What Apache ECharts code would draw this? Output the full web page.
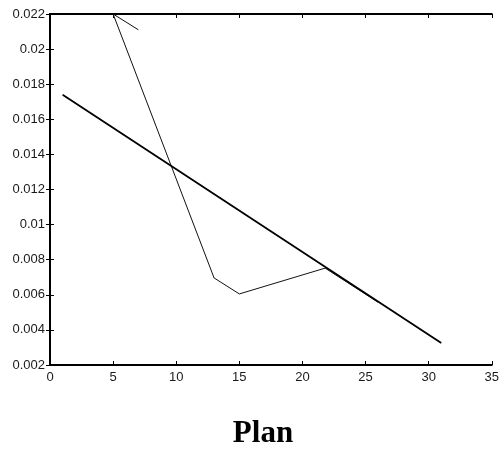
<!DOCTYPE html>
<html>
<head>
<meta charset="utf-8">
<script src="https://cdn.jsdelivr.net/npm/echarts@6/dist/echarts.min.js"></script>
<style>html,body{margin:0;padding:0;background:#fff;}#c{width:502px;height:449px;}</style>
</head>
<body>
<div id="c"></div>
<script>
// Straight (thick) line
const lineAX = [1, 31];
const lineAY = [0.0174, 0.00325];
// Thin polyline
const lineBX = [7, 5, 13, 15, 21.8, 26];
const lineBY = [0.0211, 0.022, 0.00696, 0.00605, 0.00752, 0.00557];
const xTicks = [0, 5, 10, 15, 20, 25, 30, 35];
const yTicks = [0.002, 0.004, 0.006, 0.008, 0.01, 0.012, 0.014, 0.016, 0.018, 0.02, 0.022];
const titleText = 'Plan';

const pairs = (xs, ys) => xs.map((x, i) => [x, ys[i]]);
const fmtY = v => String(parseFloat(Number(v).toFixed(3)));
const labelFont = {color: '#1a1a1a', fontFamily: 'Liberation Sans, Arial, sans-serif', fontSize: 13};
const axLine = {show: true, lineStyle: {color: '#000', width: 2}};
const tick = {show: true, inside: true, length: 4, lineStyle: {color: '#000', width: 1}};

const chart = echarts.init(document.getElementById('c'), null, {renderer: 'canvas'});
chart.setOption({
  animation: false,
  backgroundColor: '#fff',
  grid: {left: 50, right: 6, top: 14, bottom: 84, containLabel: false},
  xAxis: [
    {type: 'value', position: 'bottom', min: xTicks[0], max: xTicks[xTicks.length-1], interval: 5,
     axisLine: axLine, axisTick: tick, splitLine: {show: false},
     axisLabel: Object.assign({margin: 6}, labelFont)},
    {type: 'value', position: 'top', min: xTicks[0], max: xTicks[xTicks.length-1], interval: 5,
     axisLine: axLine, axisTick: tick, splitLine: {show: false}, axisLabel: {show: false}}
  ],
  yAxis: [
    {type: 'value', position: 'left', min: yTicks[0], max: yTicks[yTicks.length-1], interval: 0.002,
     axisLine: axLine, axisTick: tick, splitLine: {show: false},
     axisLabel: Object.assign({margin: 5, formatter: fmtY}, labelFont)},
    {type: 'value', position: 'right', min: yTicks[0], max: yTicks[yTicks.length-1], interval: 0.002,
     axisLine: axLine, axisTick: tick, splitLine: {show: false}, axisLabel: {show: false}}
  ],
  series: [
    {type: 'line', data: pairs(lineAX, lineAY), showSymbol: false, symbol: 'none',
     lineStyle: {color: '#000', width: 1.8}, z: 3},
    {type: 'line', data: pairs(lineBX, lineBY), showSymbol: false, symbol: 'none',
     lineStyle: {color: '#111', width: 1}, z: 2}
  ],
  graphic: [{
    type: 'text', x: 263, y: 434,
    style: {text: titleText, fill: '#000', font: 'bold 31px "Liberation Serif", "Times New Roman", serif',
            textAlign: 'center', textVerticalAlign: 'middle', align: 'center', verticalAlign: 'middle'}
  }]
});
</script>
</body>
</html>
